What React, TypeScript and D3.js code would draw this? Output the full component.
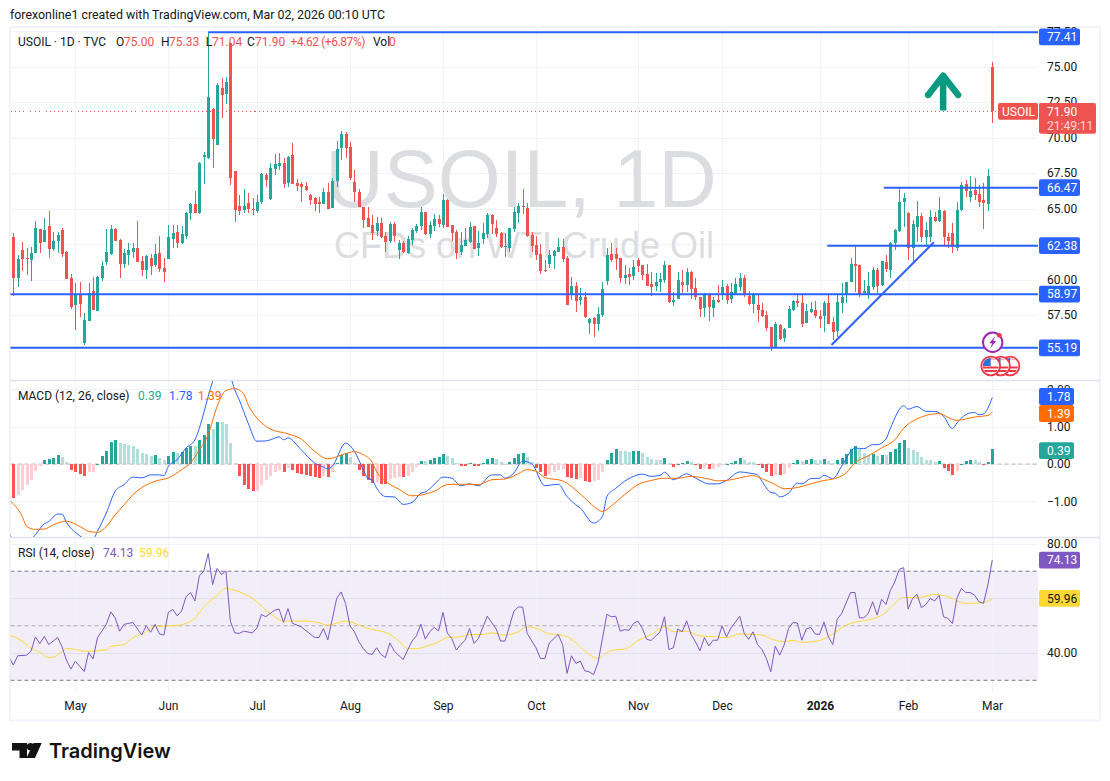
import React, { useEffect, useRef } from 'react';
import * as d3 from 'd3';

// daily candles, left to right
const opens = [
  62.97,60.13,62.07,61.53,61.37,61.89,63.55,62.66,63.76,62.15,
  62.73,63.48,61.96,60.10,58.20,58.93,55.50,57.10,59.19,57.78,
  60.08,61.23,61.77,63.55,62.78,61.11,61.72,61.93,62.22,61.30,
  60.67,61.49,61.02,61.84,60.78,61.44,62.85,63.32,62.57,63.06,
  64.66,65.31,64.66,68.65,68.55,72.00,69.49,73.46,73.06,76.63,
  67.64,65.17,64.89,65.41,64.98,64.82,65.45,67.36,65.69,67.80,
  67.99,68.22,66.79,68.76,66.79,66.72,66.58,65.92,65.76,65.45,
  65.31,66.16,65.03,66.91,69.23,70.24,69.30,66.84,66.18,65.10,
  64.33,63.84,63.41,63.98,63.06,62.71,63.91,62.08,62.59,61.87,
  62.78,63.41,63.77,64.75,63.20,63.77,64.24,63.84,65.60,63.84,
  63.34,61.91,62.36,62.64,63.77,62.19,62.85,63.20,64.54,63.60,
  63.30,62.29,62.24,63.56,64.71,65.18,65.06,63.13,62.43,61.79,
  60.64,61.09,61.65,61.94,62.29,61.54,58.91,59.54,58.56,58.79,
  56.94,57.29,56.87,57.50,59.89,61.79,61.79,61.49,60.10,60.39,
  60.27,61.37,61.02,60.36,59.68,59.54,59.82,59.96,61.02,58.41,
  58.63,59.82,59.61,60.53,59.38,58.74,58.02,58.95,58.02,58.56,
  58.91,59.54,58.60,58.98,59.49,60.08,58.83,58.27,58.20,57.85,
  57.50,56.67,55.20,56.79,55.85,56.60,57.87,58.48,58.34,56.96,
  57.68,57.85,57.43,57.43,58.32,57.03,56.39,58.32,58.95,59.84,
  61.09,61.02,59.07,58.90,59.49,60.66,59.61,61.20,60.66,62.54,
  63.43,65.48,64.68,62.24,63.72,64.47,62.99,62.99,64.40,64.14,
  64.82,62.99,63.25,62.19,64.89,66.72,65.83,66.30,66.02,65.59,65.29,75.00,
];
const highs = [
  63.25,61.72,62.61,62.19,62.26,64.12,63.55,64.30,64.82,63.37,
  63.32,63.60,62.00,60.38,59.73,59.82,57.61,59.73,60.20,60.24,
  61.30,63.55,63.83,63.60,62.85,62.12,62.59,62.59,64.12,61.65,
  61.72,61.79,62.47,63.06,61.49,63.83,63.83,63.83,63.79,64.77,
  65.41,66.23,68.25,69.00,77.41,72.05,73.81,74.16,74.23,76.63,
  67.64,65.95,66.37,66.07,65.71,65.95,67.47,67.47,68.22,68.83,
  68.88,68.58,68.72,69.59,67.05,66.89,66.89,66.00,65.83,65.78,
  66.42,66.77,67.12,69.77,70.45,70.41,69.70,67.71,66.37,65.10,
  65.08,64.54,64.38,64.35,63.37,64.07,64.07,62.78,62.73,63.06,
  63.65,63.91,65.08,64.78,64.14,64.59,64.54,65.99,65.67,63.84,
  63.49,63.37,63.60,64.03,63.77,63.44,64.00,64.71,64.61,64.19,
  63.37,63.30,63.60,65.08,65.36,66.37,65.36,63.32,63.06,62.50,
  61.37,62.08,62.08,62.90,62.83,61.65,60.15,59.80,59.38,59.10,
  57.26,57.38,58.04,59.80,62.19,62.55,62.19,61.49,61.02,60.79,
  61.37,61.49,61.02,61.09,60.50,60.43,60.43,61.30,61.02,59.14,
  60.55,60.67,60.79,60.62,60.10,58.79,59.07,59.03,58.79,59.61,
  59.96,59.68,59.73,60.08,60.43,60.31,59.21,59.02,58.97,58.32,
  57.78,56.67,57.03,56.86,56.56,58.13,58.55,58.90,58.90,58.25,
  58.43,58.50,57.85,58.48,58.90,57.38,58.90,59.73,59.84,61.49,
  62.36,61.02,59.96,60.55,60.85,60.78,61.32,61.72,62.66,63.53,
  66.42,66.06,64.73,64.19,65.52,64.66,64.07,64.89,64.77,65.83,
  64.89,63.25,63.95,65.48,66.88,67.00,67.28,67.12,66.65,66.77,67.78,75.33,
];
const lows = [
  58.84,59.49,60.62,60.31,59.91,61.89,61.84,62.66,61.53,62.03,
  61.84,61.56,60.03,57.94,56.44,57.38,55.41,57.07,57.85,57.78,
  59.89,61.02,61.72,62.71,60.10,60.83,61.02,61.53,61.25,60.27,
  60.03,60.31,60.90,60.55,59.84,61.44,62.19,62.24,62.47,62.85,
  64.19,64.66,64.61,66.72,68.48,67.87,69.49,71.35,72.36,66.65,
  64.07,64.54,64.66,64.70,64.56,64.70,65.31,66.53,65.60,67.36,
  67.71,66.46,66.53,66.72,66.25,65.45,66.25,65.24,64.82,64.70,
  65.31,64.96,65.01,66.53,68.41,68.58,67.00,65.48,65.08,63.65,
  63.72,62.78,63.06,62.90,61.96,62.59,62.66,61.44,61.84,61.79,
  62.43,63.30,63.49,63.13,62.95,63.44,63.72,63.65,63.72,62.71,
  61.44,61.72,62.36,62.59,62.15,61.65,62.50,62.90,63.20,62.97,
  62.24,61.61,61.96,63.37,63.95,64.61,63.02,61.96,61.37,60.39,
  60.50,60.83,60.74,61.91,61.21,58.20,58.56,57.71,58.20,57.26,
  56.14,55.95,56.37,57.38,59.61,61.25,60.67,59.78,59.68,59.61,
  59.96,60.55,59.96,59.57,58.86,59.21,59.14,59.78,58.32,58.16,
  58.60,59.03,59.14,58.65,58.56,57.38,57.38,57.10,57.38,58.32,
  58.56,58.27,58.37,58.91,59.21,58.79,58.20,57.66,57.03,57.38,
  56.39,54.98,55.15,55.73,55.62,56.56,57.80,58.08,56.67,56.91,
  57.61,57.26,56.56,56.32,56.86,55.73,55.97,57.61,58.32,59.84,
  59.14,58.79,58.90,58.60,59.26,59.02,59.54,60.55,60.08,62.07,
  63.32,63.67,61.37,61.13,62.66,62.66,62.26,62.66,64.07,64.07,
  62.35,62.19,61.89,62.03,64.84,65.83,65.43,65.60,65.12,63.55,64.84,71.04,
];
const closes = [
  60.13,61.44,61.44,61.46,61.84,63.60,62.59,63.48,62.17,62.71,
  63.13,61.79,60.03,58.08,58.95,58.27,57.15,59.02,57.85,60.20,
  60.95,61.93,63.55,62.71,61.11,61.84,62.07,62.22,61.25,60.67,
  61.65,60.95,61.79,60.76,60.55,62.97,63.25,62.57,63.20,64.70,
  65.31,64.66,68.20,68.76,72.83,69.89,73.69,72.99,73.88,67.17,
  64.89,64.84,65.17,64.94,64.89,65.45,67.43,67.00,67.87,68.13,
  68.20,66.72,68.65,66.72,66.58,66.49,66.30,65.60,65.31,65.31,
  66.18,64.96,66.91,69.19,70.22,69.26,67.15,66.16,65.10,64.19,
  63.72,63.30,63.98,63.02,62.62,63.91,63.09,62.57,61.94,62.83,
  63.49,63.77,64.75,63.20,63.84,64.26,63.88,65.60,63.72,63.30,
  61.89,62.43,62.78,63.70,62.17,62.55,63.25,64.54,63.91,63.20,
  62.29,62.36,63.60,64.75,65.18,65.13,63.09,62.36,61.72,60.60,
  60.60,61.72,62.01,62.29,61.44,58.20,59.54,58.46,58.79,57.33,
  57.24,56.87,57.57,59.31,61.72,61.37,61.44,60.13,60.32,60.20,
  60.86,60.95,60.32,59.57,59.47,59.82,60.03,61.02,58.41,58.56,
  59.96,59.61,60.53,59.35,58.74,57.95,58.95,58.09,58.56,58.41,
  59.45,58.56,59.12,59.68,60.08,58.90,58.27,58.97,57.85,57.45,
  56.56,55.15,56.86,55.78,56.49,57.92,58.48,58.34,56.86,57.78,
  57.92,57.43,57.21,58.32,56.86,56.32,58.39,58.74,59.84,61.09,
  60.95,58.90,59.21,59.54,60.66,59.54,61.32,60.73,62.54,63.48,
  65.48,65.73,62.24,63.90,64.47,62.99,63.48,64.40,64.12,64.87,
  63.01,62.71,62.26,64.87,66.65,66.23,66.23,65.95,65.48,65.36,67.28,71.90,
];

// MACD histogram, one per bar
const macdHist = [
  -.91,-.82,-.69,-.55,-.42,-.18,-.04,.12,.13,.16,.25,.20,.06,-.15,-.20,-.26,-.31,-.22,-.20,.01,
  .21,.36,.58,.65,.56,.54,.51,.47,.41,.29,.27,.22,.23,.16,.12,.22,.31,.30,.32,.43,
  .49,.47,.65,.77,1.06,.95,1.13,1.12,1.06,.56,.04,-.33,-.55,-.66,-.73,-.71,-.55,-.44,-.33,-.22,
  -.17,-.21,-.11,-.17,-.24,-.27,-.29,-.33,-.36,-.38,-.33,-.34,-.22,.04,.25,.29,.18,.04,-.15,-.31,
  -.42,-.50,-.49,-.53,-.54,-.40,-.37,-.35,-.36,-.31,-.20,-.09,.09,.08,.12,.17,.18,.28,.22,.17,
  .04,-.04,-.05,.04,-.05,-.06,.04,.14,.17,.13,.06,.01,.06,.17,.27,.30,.20,.06,-.10,-.21,
  -.31,-.26,-.21,-.15,-.14,-.34,-.37,-.39,-.38,-.45,-.47,-.46,-.42,-.21,.12,.30,.41,.36,.35,.33,
  .34,.35,.30,.20,.14,.12,.11,.17,.04,-.07,.01,.03,.09,.06,-.02,-.12,-.10,-.13,-.12,-.09,
  -.01,.00,.03,.09,.17,.12,.06,.05,-.02,-.10,-.20,-.31,-.28,-.29,-.26,-.11,.03,.12,.09,.12,
  .13,.12,.11,.13,.09,.04,.12,.17,.28,.41,.49,.41,.30,.25,.28,.22,.25,.24,.33,.41,
  .56,.65,.44,.38,.33,.20,.12,.11,.06,.09,-.10,-.18,-.29,-.18,.01,.09,.12,.11,.06,-.01,.06,.39,
];

// line vertices: bar index + value
const macdBars = [
  -1,0,2,3,5,7,8,10,11,12,15,17,18,19,21,23,25,27,29,31,33,34,35,37,39,41,42,43,44,45,47,48,49,50,51,53,55,57,59,60,
  61,62,65,68,70,71,72,75,77,79,80,81,82,84,86,88,90,92,93,95,97,99,101,103,105,108,110,111,113,115,117,120,123,125,127,128,131,133,134,136,
  138,141,142,144,146,147,149,152,153,155,157,159,161,164,166,168,169,171,172,173,175,177,178,180,182,183,185,187,190,192,194,195,197,198,201,202,204,206,208,210,
  212,213,216,217,218,219,221,
];
const macdLine = [
  -1.85,-2.03,-2.2,-2.15,-1.89,-1.6,-1.54,-1.34,-1.34,-1.56,-1.92,-2.07,-2.03,-1.8,-1.31,-.73,-.55,-.35,-.37,-.29,-.29,-.31,-.06,.12,.43,.65,.96,1.37,1.81,2.21,2.62,2.66,2.35,1.99,1.72,1.1,.61,.62,.69,.73,
  .65,.7,.38,.03,-.08,-.13,-.06,.56,.34,-.15,-.38,-.42,-.64,-.87,-.88,-1.08,-1.03,-.78,-.75,-.55,-.35,-.38,-.58,-.53,-.58,-.29,-.29,-.38,-.24,.08,.01,-.58,-.54,-.87,-1.09,-1.18,-1.58,-1.4,-.87,-.65,
  -.46,-.29,-.27,-.33,-.3,-.22,-.42,-.26,-.31,-.44,-.53,-.53,-.44,-.21,-.24,-.29,-.46,-.76,-.78,-.88,-.78,-.51,-.53,-.39,-.38,-.3,-.39,-.06,.43,.41,.52,.52,.67,.96,1.56,1.47,1.54,1.41,1.41,1.28,
  .95,1.1,1.37,1.38,1.32,1.34,1.78,
];
const signalBars = [
  -1,2,3,5,7,9,12,15,17,19,21,23,25,27,29,32,35,38,40,42,44,46,48,50,52,53,55,58,62,65,68,71,75,77,79,81,82,84,87,90,
  92,95,98,101,105,108,111,114,116,118,120,124,126,129,132,133,135,138,141,144,147,150,153,157,159,161,164,167,169,172,174,177,180,183,185,188,190,193,196,199,
  201,204,206,209,211,213,217,220,221,
];
const signalLine = [
  -.96,-1.4,-1.67,-1.75,-1.74,-1.63,-1.53,-1.67,-1.8,-1.83,-1.67,-1.36,-1.09,-.82,-.63,-.46,-.37,-.15,.03,.38,.79,1.54,1.97,2.02,1.88,1.59,1.23,.94,.81,.67,.34,.14,.28,.33,.25,.05,-.2,-.46,-.67,-.85,
  -.83,-.73,-.55,-.54,-.55,-.42,-.4,-.26,-.15,-.19,-.36,-.45,-.6,-.91,-1.22,-1.27,-1.12,-.82,-.55,-.44,-.38,-.38,-.33,-.4,-.45,-.44,-.37,-.31,-.39,-.55,-.66,-.63,-.53,-.44,-.4,-.24,.03,.22,.43,.65,
  .96,1.21,1.3,1.35,1.25,1.17,1.26,1.3,1.39,
];

const rsiBars = [
  -1,0,1,3,4,5,6,7,8,10,11,12,13,14,16,17,18,19,21,22,23,24,25,27,29,30,31,32,33,34,35,36,37,38,39,40,41,42,43,44,45,46,47,48,49,50,51,52,54,55,56,57,59,60,61,62,63,65,68,69,70,71,73,74,75,76,77,78,79,80,
  81,82,83,84,85,86,88,90,91,92,93,94,95,96,97,98,99,100,101,102,103,104,105,107,109,110,111,113,114,115,116,118,119,120,121,123,124,125,126,127,128,129,130,131,132,134,135,136,137,138,139,140,141,142,143,144,146,147,148,149,150,151,152,153,154,155,156,157,158,159,160,161,162,164,
  165,166,167,168,169,170,171,172,173,174,175,176,177,178,179,180,181,182,183,184,185,186,187,189,190,191,192,193,194,195,196,197,198,199,200,201,202,203,204,205,206,207,208,209,210,211,212,213,214,215,216,217,218,219,220,221,
];
const rsiLine = [
  38.6,35.6,39,39.2,40.7,45.9,43.5,46.1,43.1,45.7,42.3,37.4,34.1,37,33.2,40.2,37.8,45.6,50.5,55.1,52.9,48,50.5,51.2,46.6,50,47.6,50.5,47,46.6,54.9,56,53.6,55.4,60.7,62.2,59.1,68.3,70,76.5,65.1,71,68.8,70.1,51.7,47.4,47.2,48,47.4,49.2,54.1,53.3,55.7,56.1,51.2,56.3,50.9,49.6,45.7,45.7,49,44.8,60,62.4,58.2,50,47.8,44.1,41.7,39.8,
  39.5,41.9,39.5,38.3,43.7,40.7,37.6,44.4,46.3,50.6,45.1,47.8,49.4,48.1,54.9,47.2,45.3,41.1,43.1,44.7,49,43.5,45.3,53.5,48.8,44.4,44.4,55.3,56.9,56.8,47.2,41.9,38,38,43.7,46.8,43.1,32.5,39,36.2,37,33.5,33.1,32.1,36.5,54.2,53.3,53.5,48,48.6,48.3,50.8,51.7,49,45,44.6,47.8,53.3,41.3,41.9,48.8,47.8,51.8,46.8,44.1,40.8,45.6,42.6,44.7,44.7,50,45.9,49.2,53.5,
  47.2,45,47.8,43.1,41.3,38,33.1,42.5,39.2,42.9,49,51.2,51,44.7,48.8,49.4,47,46.8,51.4,45.9,43.1,52.4,54.5,62.2,62.2,52.9,52.9,54.5,58.8,53.9,59.7,57.8,63,66.1,70.7,71.3,56.1,60,61.5,56.6,57.8,60,59.1,61.2,53.3,52.7,50.8,60,63.7,62.2,62.2,61.2,58.8,58.2,64.9,74.13,
];
const rsiMaBars = [
  -1,2,4,6,8,9,11,12,14,16,18,21,22,25,27,29,32,37,41,42,44,46,48,50,52,55,57,59,61,66,69,71,75,80,
  82,85,87,89,91,93,96,98,101,103,106,108,111,114,116,119,121,123,126,129,132,134,136,138,141,144,147,149,152,155,159,161,164,
  169,171,174,176,178,182,185,188,190,193,197,199,201,204,208,211,215,219,221,
];
const rsiMa = [
  46.6,44.4,41.7,40.2,38.3,38.5,40.5,41.7,41.3,40.7,40.7,41.2,42.4,43.1,45.6,46.8,49.7,50.1,52.7,54.9,58.5,61,63.7,63,61.8,58.8,55.7,53.3,51.7,51.7,51.1,50.2,51.7,49,
  48.3,46.9,44.4,41.7,41.6,42.3,44.1,45.7,45.9,46.8,46.8,47.4,46.6,47.8,49.6,48.5,47,46.8,45.1,40.7,38,40.2,41.2,41.4,44.6,46.8,49.6,47.8,48,46.3,45.9,45.6,47,
  46.6,45.3,44.1,44.6,43.9,44.6,47,50.2,51.3,52.1,54.9,58.2,60.4,60.2,61.5,60.6,58.2,58.5,59.96,
];

const monthBars = [14, 35, 55, 76, 97, 118, 141, 160, 182, 202, 221];
const monthLabels = ['May', 'Jun', 'Jul', 'Aug', 'Sep', 'Oct', 'Nov', 'Dec', '2026', 'Feb', 'Mar'];
const priceTicks = [77.5, 75, 72.5, 70, 67.5, 65, 62.5, 60, 57.5, 55];
const macdTicks = [2, 1, 0, -1];
const rsiTicks = [80, 60, 40];

// drawn levels: price and the bar they start from
const levelPrices = [77.41, 66.47, 62.38, 58.97, 55.19];
const levelStarts = [44, 196.5, 183.75, -1, -1];
const trendBars = [184.7, 207.8];
const trendPrices = [55.39, 62.62];

const GREEN = '#26a69a';
const RED = '#ef5350';
const BLUE = '#2962ff';
const ORANGE = '#ff6d00';
const PURPLE = '#7e57c2';
const YELLOW = '#fdd835';
const INK = '#131722';
const GRID = '#f0f3fa';
const FONT = 'Roboto, sans-serif';

export default function App() {
  const svgRef = useRef(null);

  useEffect(() => {
    const svg = d3.select(svgRef.current);
    svg.selectAll('*').remove();

    const x = d3.scaleLinear().domain([0, 221]).range([13.3, 992.3]);
    const yPrice = d3.scaleLinear().domain([75, 57.5]).range([66.5, 315]);
    const yMacd = d3.scaleLinear().domain([1, -1]).range([426.7, 501.4]);
    const yRsi = d3.scaleLinear().domain([70, 30]).range([571.2, 680.3]);
    const left = 10.5;
    const right = 1038;
    const px = (i) => Math.round(x(i)) + 0.5;

    const label = (parent, t, lx, ly, color = INK, size = 12, opts = {}) =>
      parent.append('text')
        .attr('x', lx).attr('y', ly)
        .attr('dy', '0.35em')
        .attr('fill', color)
        .attr('font-family', opts.family || FONT)
        .attr('font-size', size)
        .attr('font-weight', opts.weight || 400)
        .attr('text-anchor', opts.anchor || 'start')
        .text(t);

    svg.append('rect').attr('width', 1110).attr('height', 781).attr('fill', '#fff');

    label(svg, 'forexonline1 created with TradingView.com, Mar 02, 2026 00:10 UTC', 10, 15, INK, 12.4);

    // clip one pane each
    const defs = svg.append('defs');
    const addClip = (id, y0, y1) =>
      defs.append('clipPath').attr('id', id).append('rect')
        .attr('x', left).attr('y', y0).attr('width', right - left).attr('height', y1 - y0);
    addClip('clip-price', 28, 380);
    addClip('clip-macd', 381, 537);
    addClip('clip-rsi', 538, 692);

    // frame
    svg.append('rect')
      .attr('x', 10).attr('y', 27).attr('width', 1090).attr('height', 693.5)
      .attr('fill', 'none').attr('stroke', GRID).attr('stroke-width', 2);

    // RSI band under the grid
    svg.append('rect')
      .attr('x', left).attr('y', yRsi(70)).attr('width', right - left).attr('height', yRsi(30) - yRsi(70))
      .attr('fill', PURPLE).attr('fill-opacity', 0.1);

    // grid
    const grid = svg.append('g').attr('stroke', GRID).attr('shape-rendering', 'crispEdges');
    monthBars.forEach((b) => {
      grid.append('line').attr('x1', px(b)).attr('x2', px(b)).attr('y1', 28).attr('y2', 692);
    });
    const hLine = (y) => grid.append('line').attr('x1', left).attr('x2', right).attr('y1', y).attr('y2', y);
    priceTicks.forEach((t) => hLine(Math.round(yPrice(t)) + 0.5));
    macdTicks.forEach((t) => hLine(Math.round(yMacd(t)) + 0.5));
    rsiTicks.forEach((t) => hLine(Math.round(yRsi(t)) + 0.5)
      .attr('stroke', t === 80 ? GRID : '#e3e0ef'));

    // pane separators
    [380.5, 537.5].forEach((y) => {
      svg.append('line').attr('x1', 10).attr('x2', 1100).attr('y1', y).attr('y2', y)
        .attr('stroke', '#e0e3eb').attr('stroke-width', 1.5);
    });

    // watermark
    label(svg, 'USOIL, 1D', 521, 179, '#dcdde0', 81, { anchor: 'middle', family: '"Liberation Sans", sans-serif' });
    label(svg, 'CFDs on WTI Crude Oil', 524, 245, '#dcdde0', 36, { anchor: 'middle', family: '"Liberation Sans", sans-serif' });

    // candles
    const price = svg.append('g').attr('clip-path', 'url(#clip-price)');
    const candles = price.append('g').attr('shape-rendering', 'crispEdges');
    closes.forEach((c, i) => {
      const color = c >= opens[i] ? GREEN : RED;
      candles.append('line')
        .attr('x1', px(i)).attr('x2', px(i))
        .attr('y1', yPrice(highs[i])).attr('y2', yPrice(lows[i]))
        .attr('stroke', color);
      const top = yPrice(Math.max(opens[i], c));
      const bottom = yPrice(Math.min(opens[i], c));
      candles.append('rect')
        .attr('x', px(i) - 1.5).attr('width', 3)
        .attr('y', top).attr('height', Math.max(bottom - top, 1))
        .attr('fill', color);
    });

    // last price line
    const lastY = Math.round(yPrice(71.9)) + 0.5;
    price.append('line')
      .attr('x1', left).attr('x2', right)
      .attr('y1', lastY).attr('y2', lastY)
      .attr('stroke', RED).attr('stroke-dasharray', '1 3')
      .attr('shape-rendering', 'crispEdges');

    // drawn levels and trend line
    levelPrices.forEach((p, i) => {
      price.append('line')
        .attr('x1', x(levelStarts[i])).attr('x2', right)
        .attr('y1', yPrice(p)).attr('y2', yPrice(p))
        .attr('stroke', BLUE).attr('stroke-width', 2);
    });
    price.append('line')
      .attr('x1', x(trendBars[0])).attr('y1', yPrice(trendPrices[0]))
      .attr('x2', x(trendBars[1])).attr('y2', yPrice(trendPrices[1]))
      .attr('stroke', BLUE).attr('stroke-width', 2);

    // up arrow
    const arrowX = x(209.9);
    const arrow = price.append('g').attr('fill', 'none').attr('stroke', '#089981').attr('stroke-linecap', 'round').attr('stroke-linejoin', 'round');
    arrow.append('path')
      .attr('d', `M${arrowX},${yPrice(71.9)}V${yPrice(74.4)}`)
      .attr('stroke-width', 6.5).attr('stroke-linecap', 'butt');
    arrow.append('path')
      .attr('d', `M${arrowX - 15},${yPrice(73.0)}L${arrowX},${yPrice(74.35)}L${arrowX + 15},${yPrice(73.0)}`)
      .attr('stroke-width', 6.5);

    // event icons
    const bolt = svg.append('g').attr('transform', 'translate(992.7,342.3)');
    bolt.append('circle').attr('r', 9.7).attr('fill', '#fff').attr('stroke', '#9c27b0').attr('stroke-width', 2);
    bolt.append('path').attr('d', 'M2.5,-6 L-3.5,1 L-0.5,1 L-2.5,6 L3.5,-1.2 L0.5,-1.2 Z').attr('fill', '#9c27b0');
    bolt.append('circle').attr('cx', 6.6).attr('cy', -7).attr('r', 2.4).attr('fill', '#f23645');
    [[1010, 'f3'], [1000.5, 'f2'], [990.7, 'f1']].forEach(([cx, id]) => {
      const flag = svg.append('g').attr('transform', `translate(${cx},366)`);
      defs.append('clipPath').attr('id', id).append('circle').attr('r', 8);
      flag.append('circle').attr('r', 9.4).attr('fill', '#fff').attr('stroke', '#f23645').attr('stroke-width', 1.8);
      const inner = flag.append('g').attr('clip-path', `url(#${id})`);
      [0.5, 4].forEach((sy) => {
        inner.append('rect').attr('x', -10).attr('y', sy).attr('width', 20).attr('height', 2).attr('fill', '#f23645');
      });
      inner.append('rect').attr('x', -10).attr('y', -10).attr('width', 20).attr('height', 4).attr('fill', '#f8b4b4');
      inner.append('rect').attr('x', -10).attr('y', -10).attr('width', 10).attr('height', 10).attr('fill', '#2f6fd8');
    });

    // MACD pane
    const macd = svg.append('g').attr('clip-path', 'url(#clip-macd)');
    macd.append('line')
      .attr('x1', left).attr('x2', right)
      .attr('y1', yMacd(0)).attr('y2', yMacd(0))
      .attr('stroke', '#b2b5be').attr('stroke-dasharray', '4 3');
    const bars = macd.append('g').attr('shape-rendering', 'crispEdges');
    macdHist.forEach((v, i) => {
      const prev = i > 0 ? macdHist[i - 1] : v;
      let color;
      if (v >= 0) color = v >= prev ? GREEN : '#b2dfdb';
      else color = v <= prev ? '#ff5252' : '#ffcdd2';
      const a = yMacd(Math.max(v, 0));
      const b = yMacd(Math.min(v, 0));
      bars.append('rect')
        .attr('x', px(i) - 1.5).attr('width', 3)
        .attr('y', a).attr('height', Math.max(b - a, 1))
        .attr('fill', color);
    });
    const drawLine = (parent, idx, vals, y, color, curve = d3.curveLinear) => {
      const line = d3.line().x((_, i) => x(idx[i])).y((d) => y(d)).curve(curve);
      parent.append('path')
        .attr('d', line(vals))
        .attr('fill', 'none').attr('stroke', color).attr('stroke-width', 1);
    };
    drawLine(macd, macdBars, macdLine, yMacd, BLUE, d3.curveMonotoneX);
    drawLine(macd, signalBars, signalLine, yMacd, ORANGE, d3.curveMonotoneX);

    // RSI pane
    const rsi = svg.append('g').attr('clip-path', 'url(#clip-rsi)');
    [70, 50, 30].forEach((v) => {
      rsi.append('line')
        .attr('x1', left).attr('x2', right)
        .attr('y1', yRsi(v)).attr('y2', yRsi(v))
        .attr('stroke', '#787b86').attr('stroke-opacity', v === 50 ? 0.6 : 1).attr('stroke-dasharray', '4 3');
    });
    drawLine(rsi, rsiMaBars, rsiMa, yRsi, YELLOW, d3.curveMonotoneX);
    drawLine(rsi, rsiBars, rsiLine, yRsi, PURPLE);

    // axis labels, tags go over them
    const axisX = 1047;
    priceTicks.forEach((t) => {
      label(svg, t.toFixed(2), axisX, t === 77.5 ? 32 : yPrice(t));
    });
    macdTicks.forEach((t) => {
      label(svg, (t < 0 ? '\u2212' : '') + Math.abs(t).toFixed(2), axisX, yMacd(t));
    });
    rsiTicks.forEach((t) => label(svg, t.toFixed(2), axisX, yRsi(t)));
    monthBars.forEach((b, i) => {
      label(svg, monthLabels[i], px(b), 706, INK, 12, { anchor: 'middle', weight: monthLabels[i] === '2026' ? 700 : 400 });
    });

    const tag = (t, cy, fill, w = 41, color = '#fff') => {
      svg.append('rect')
        .attr('x', 1039).attr('y', cy - 8.4).attr('width', w).attr('height', 16.8).attr('rx', 2)
        .attr('fill', fill);
      label(svg, t, axisX, cy, color);
    };
    levelPrices.forEach((p) => tag(p.toFixed(2), yPrice(p) + 4.5 * (p === 77.41 ? 1 : 0), BLUE));

    // USOIL + countdown tag
    svg.append('rect').attr('x', 998).attr('y', 103).attr('width', 40).attr('height', 16.8).attr('rx', 2).attr('fill', RED);
    label(svg, 'USOIL', 1002, 111.5, '#fff');
    svg.append('rect').attr('x', 1039).attr('y', 103).attr('width', 57).attr('height', 30.7).attr('rx', 2).attr('fill', RED);
    label(svg, '71.90', axisX, 111.5, '#fff');
    label(svg, '21:49:11', axisX, 125.5, '#ffd6d5');

    tag('1.78', 396.5, BLUE, 35);
    tag('1.39', 413.5, ORANGE, 35);
    tag('0.39', 450.7, GREEN, 35);
    tag('74.13', 560.2, PURPLE);
    tag('59.96', 598.3, YELLOW, 41, INK);

    // legends
    const legendY = 41.7;
    const legend = [
      ['USOIL \u00b7 1D \u00b7 TVC', 18, INK], ['O', 116, INK], ['75.00', 124, RED], ['H', 161, INK], ['75.33', 169, RED],
      ['L', 205.7, INK], ['71.04', 212, RED], ['C', 247, INK], ['71.90', 255, RED], ['+4.62 (+6.87%)', 290.5, RED],
      ['Vol', 373, INK], ['0', 389, RED],
    ];
    legend.forEach(([t, lx, c]) => {
      const el = label(svg, t, lx, legendY, c);
      if (t[0] === '+') el.attr('textLength', 75);
    });
    label(svg, 'MACD (12, 26, close)', 18, 396, INK);
    label(svg, '0.39', 138, 396, GREEN);
    label(svg, '1.78', 169, 396, BLUE);
    label(svg, '1.39', 198, 396, ORANGE);
    label(svg, 'RSI (14, close)', 18, 553, INK);
    label(svg, '74.13', 103, 553, PURPLE);
    label(svg, '59.96', 139, 553, YELLOW);

    // footer logo
    const logo = svg.append('g').attr('fill', '#131313');
    logo.append('path').attr('d', 'M12,743H27V758H19.5V750.5H12Z');
    logo.append('circle').attr('cx', 30.5).attr('cy', 746.8).attr('r', 3.7);
    logo.append('path').attr('d', 'M33.5,743H41.7L35,758H26.5Z');
    label(svg, 'TradingView', 49, 751, '#131313', 20, { family: 'Inter, sans-serif', weight: 600 });
  }, []);

  return (
    <svg ref={svgRef} width={1110} height={781} style={{ position: 'absolute', left: 0, top: 0 }} />
  );
}
